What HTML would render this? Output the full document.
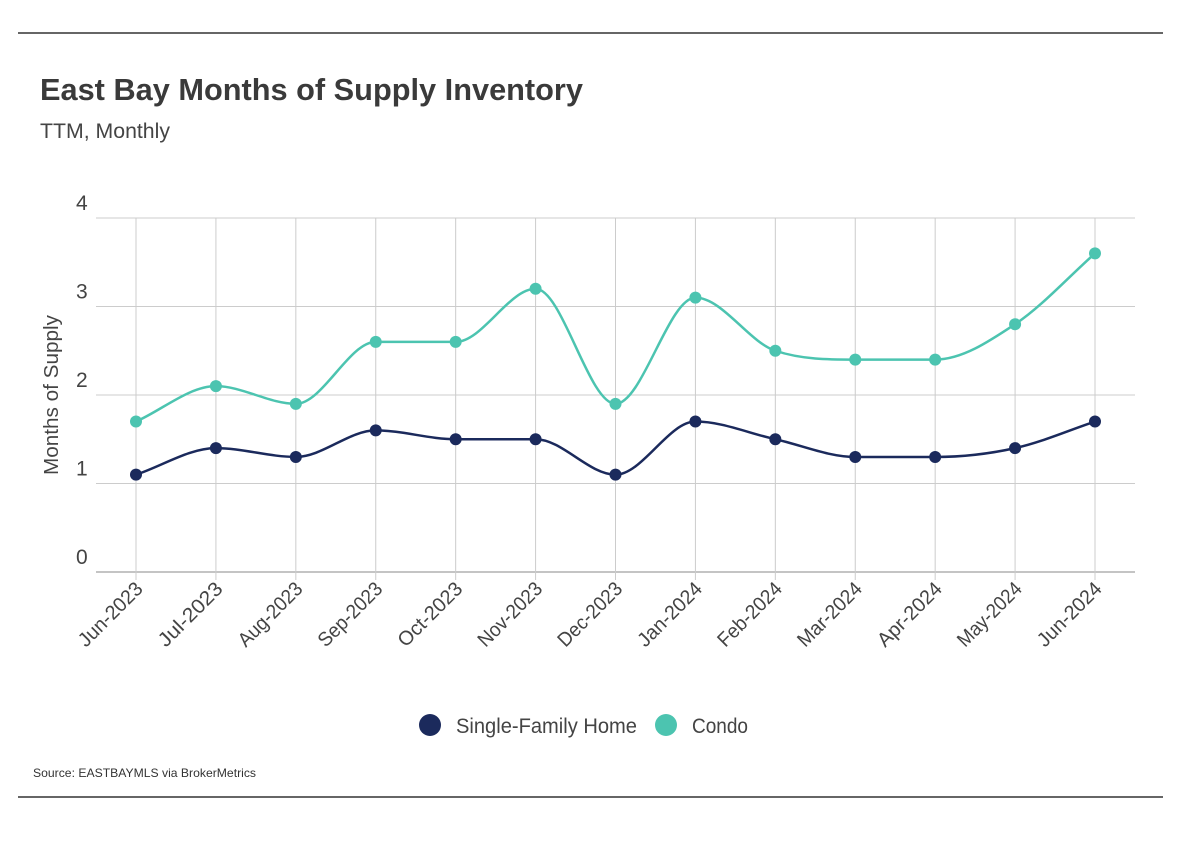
<!DOCTYPE html>
<html><head><meta charset="utf-8">
<style>
body{margin:0;background:#fff;}
svg text{font-family:"Liberation Sans Narrow","Liberation Sans",sans-serif;}
</style></head>
<body>
<svg id="chart" width="1184" height="854" viewBox="0 0 1184 854" xmlns="http://www.w3.org/2000/svg">
<line x1="18" y1="33" x2="1163" y2="33" stroke="#333" stroke-width="1.5"/>
<line x1="18" y1="797" x2="1163" y2="797" stroke="#333" stroke-width="1.5"/>
<text x="40" y="100" font-size="31" font-weight="bold" fill="#3a3a3a" textLength="543" lengthAdjust="spacingAndGlyphs">East Bay Months of Supply Inventory</text>
<text x="40" y="138" font-size="21" fill="#444" textLength="130" lengthAdjust="spacingAndGlyphs">TTM, Monthly</text>
<text transform="translate(58,395) rotate(-90)" text-anchor="middle" font-size="20" fill="#444" textLength="160" lengthAdjust="spacingAndGlyphs">Months of Supply</text>
<g id="grid"></g><g id="series"></g>
<g>
<circle cx="430" cy="725" r="11" fill="#1b2a5c"/>
<text x="456" y="733" font-size="21" fill="#444" textLength="181" lengthAdjust="spacingAndGlyphs">Single-Family Home</text>
<circle cx="666" cy="725" r="11" fill="#4cc4b0"/>
<text x="692" y="733" font-size="21" fill="#444" textLength="56" lengthAdjust="spacingAndGlyphs">Condo</text>
</g>
<text x="33" y="777" font-size="12" fill="#333" textLength="223" lengthAdjust="spacingAndGlyphs">Source:  EASTBAYMLS via BrokerMetrics</text>
</svg>
<script>
const categories=["Jun-2023","Jul-2023","Aug-2023","Sep-2023","Oct-2023","Nov-2023","Dec-2023","Jan-2024","Feb-2024","Mar-2024","Apr-2024","May-2024","Jun-2024"];
const sfhValues=[1.1,1.4,1.3,1.6,1.5,1.5,1.1,1.7,1.5,1.3,1.3,1.4,1.7];
const condoValues=[1.7,2.1,1.9,2.6,2.6,3.2,1.9,3.1,2.5,2.4,2.4,2.8,3.6];
const yTicks=[0,1,2,3,4];
const NS="http://www.w3.org/2000/svg";
const x=i=>136+i*(1095-136)/(categories.length-1);
const y=v=>572-v*(572-218)/4;
const grid=document.getElementById('grid'),ser=document.getElementById('series');
function mk(t,a,p){const e=document.createElementNS(NS,t);for(const k in a)e.setAttribute(k,a[k]);p.appendChild(e);return e;}
yTicks.forEach(t=>{
 const l=mk('line',{x1:96,x2:1135,y1:y(t),y2:y(t),stroke:t===0?'#888':'#ccc','stroke-width':1},grid);
 
 
 const tx=mk('text',{x:76,y:y(t)-8,'font-size':21,fill:'#444'},grid);tx.textContent=t;
 
 
});
categories.forEach((c,i)=>{
 const l=mk('line',{x1:x(i),x2:x(i),y1:218,y2:580,stroke:'#ccc','stroke-width':1},grid);
 
 
 const tx=mk('text',{transform:`translate(${x(i)+8},${590}) rotate(-45)`,'text-anchor':'end','font-size':20,fill:'#444',textLength:82,lengthAdjust:'spacingAndGlyphs'},grid);tx.textContent=c;
 
 
});
function path(vals){
 const p=vals.map((v,i)=>[x(i),y(v)]),n=p.length;
 const s=[],t=[];
 for(let i=0;i<n-1;i++)s.push((p[i+1][1]-p[i][1])/(p[i+1][0]-p[i][0]));
 for(let i=0;i<n;i++){
  if(i===0)t.push(s[0]);else if(i===n-1)t.push(s[n-2]);
  else{const a=s[i-1],b=s[i];t.push(a*b<=0?0:(a+b)/2>0?Math.min(3*Math.min(a,b),(a+b)/2):Math.max(3*Math.max(a,b),(a+b)/2));}
 }
 let d=`M${p[0][0]},${p[0][1]}`;
 for(let i=0;i<n-1;i++){const h=(p[i+1][0]-p[i][0])/3;
  d+=` C${p[i][0]+h},${p[i][1]+h*t[i]} ${p[i+1][0]-h},${p[i+1][1]-h*t[i+1]} ${p[i+1][0]},${p[i+1][1]}`;}
 return d;}
[[condoValues,'#4cc4b0','condo'],[sfhValues,'#1b2a5c','sfh']].forEach(([vals,col,n])=>{
 const pa=mk('path',{d:path(vals),fill:'none',stroke:col,'stroke-width':2.5},ser);
 
 
 vals.forEach((v,i)=>{const c=mk('circle',{cx:x(i),cy:y(v),r:6,fill:col},ser);
  
  });
});
</script>
</body></html>
